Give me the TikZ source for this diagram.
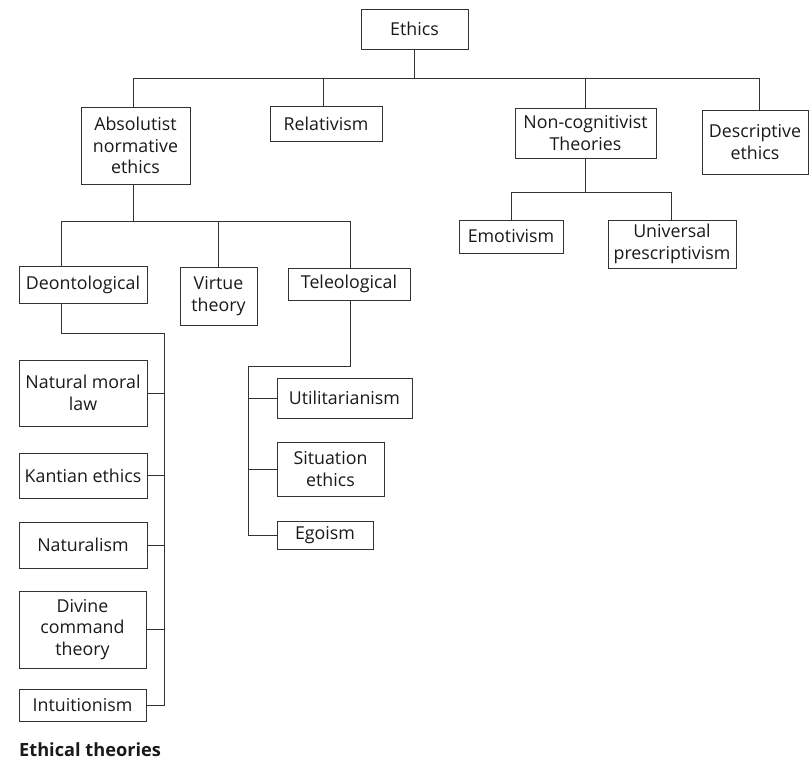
\documentclass[tikz,border=0pt]{standalone}
\usepackage{fontspec}
\setmainfont{Open Sans}
\begin{document}
\begin{tikzpicture}[x=1pt,y=-1pt,
  box/.style={draw=black!80, line width=0.9pt, align=center, inner sep=0pt,
    font=\fontsize{17.8}{21.5}\selectfont, text=black!90},
  conn/.style={draw=black!80, line width=0.9pt}]
\useasboundingbox (0,0) rectangle (809,760);
\newcommand{\bx}[6]{\node[box, minimum width=#4pt, minimum height=#5pt] (#1) at (#2,#3) {#6};}
\bx{ethics}{414.5}{29}{107}{40}{Ethics}
\bx{abs}{135.5}{145.5}{109}{77}{Absolutist\\normative\\ethics}
\bx{rel}{326}{123.5}{112}{35}{Relativism}
\bx{noncog}{585.5}{133}{141}{50}{Non-cognitivist\\Theories}
\bx{desc}{755}{142}{106}{64}{Descriptive\\ethics}
\bx{emo}{511}{236.5}{104}{33}{Emotivism}
\bx{univ}{672}{244}{128}{48}{Universal\\prescriptivism}
\bx{deon}{83}{284.5}{128}{37}{Deontological}
\bx{virt}{218.5}{296}{77}{58}{Virtue\\theory}
\bx{tele}{349}{284}{122}{32}{Teleological}
\bx{nml}{83}{393}{128}{66}{Natural moral\\law}
\bx{kant}{83}{475.5}{128}{45}{Kantian ethics}
\bx{natur}{83}{545}{128}{46}{Naturalism}
\bx{divine}{82.5}{629.5}{127}{77}{Divine\\command\\theory}
\bx{intu}{82.5}{705}{127}{32}{Intuitionism}
\bx{util}{344.5}{398}{135}{40}{Utilitarianism}
\bx{sit}{330.5}{469}{107}{54}{Situation\\ethics}
\bx{ego}{325}{535}{96}{28}{Egoism}
\node[anchor=base west, inner sep=0pt, font=\fontsize{18.2}{22}\selectfont\bfseries, text=black!90] (cap) at (19,756) {Ethical theories};
% top level
\coordinate (bar1) at (414.5,78);
\draw[conn] (ethics.south) -- (bar1);
\draw[conn] ([xshift=-2pt]abs.north) -- ([xshift=-2pt]abs.north |- bar1) -- ([xshift=4pt]desc.north |- bar1) -- ([xshift=4pt]desc.north);
\draw[conn] ([xshift=-3pt]rel.north) -- ([xshift=-3pt]rel.north |- bar1);
\draw[conn] (noncog.north) -- (noncog.north |- bar1);
% non-cognitivist
\coordinate (bar2) at (585.5,192);
\draw[conn] (noncog.south) -- (bar2);
\draw[conn] (emo.north) -- (emo.north |- bar2) -- ([xshift=-1pt]univ.north |- bar2) -- ([xshift=-1pt]univ.north);
% absolutist
\coordinate (bar3) at (133.5,221);
\draw[conn] ([xshift=-2pt]abs.south) -- (bar3);
\draw[conn] ([xshift=-22pt]deon.north) -- ([xshift=-22pt]deon.north |- bar3) -- ([xshift=1pt]tele.north |- bar3) -- ([xshift=1pt]tele.north);
\draw[conn] (virt.north) -- (virt.north |- bar3);
% deontological
\coordinate (dspine) at (164,333);
\draw[conn] ([xshift=-22pt]deon.south) -- ([xshift=-22pt]deon.south |- dspine) -- (dspine) -- (dspine |- intu.east) -- (intu.east);
\foreach \n in {nml,kant,natur,divine}{\draw[conn] (\n.east) -- (\n.east -| dspine);}
% teleological
\coordinate (tspine) at (248,366);
\draw[conn] ([xshift=1pt]tele.south) -- ([xshift=1pt]tele.south |- tspine) -- (tspine) -- (tspine |- ego.west) -- (ego.west);
\foreach \n in {util,sit}{\draw[conn] (\n.west) -- (\n.west -| tspine);}
\end{tikzpicture}
\end{document}
